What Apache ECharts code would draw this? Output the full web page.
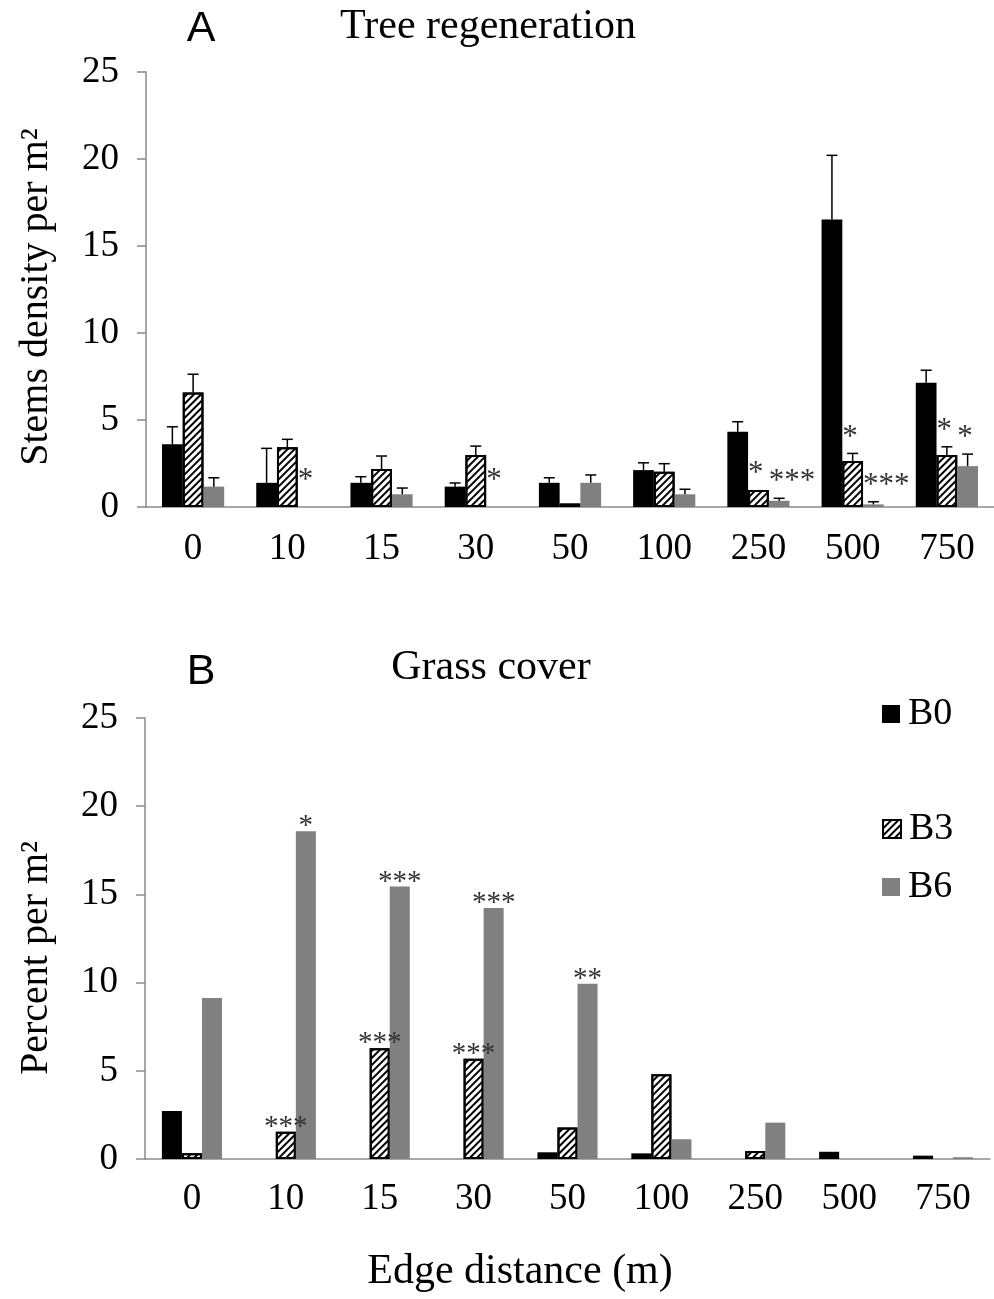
<!DOCTYPE html>
<html>
<head>
<meta charset="utf-8">
<script src="https://cdn.jsdelivr.net/npm/echarts@6/dist/echarts.min.js"></script>
<style>
  html, body { margin: 0; padding: 0; background: #fff; }
  #chart { width: 994px; height: 1299px; }
</style>
</head>
<body>
<div id="chart"></div>
<script>
// Edge distance classes (m)
const categories = ['0', '10', '15', '30', '50', '100', '250', '500', '750'];

// A: tree regeneration, stems density per m2 (mean and upper error)
const treeB0 = [3.60, 1.39, 1.39, 1.17, 1.39, 2.12, 4.32, 16.53, 7.14];
const treeB0Err = [1.01, 1.98, 0.35, 0.21, 0.29, 0.42, 0.58, 3.68, 0.72];
const treeB3 = [6.58, 3.43, 2.18, 2.99, 0.20, 2.03, 0.98, 2.64, 2.99];
const treeB3Err = [1.05, 0.46, 0.75, 0.51, 0, 0.46, 0, 0.44, 0.47];
const treeB6 = [1.17, 0, 0.73, 0, 1.39, 0.73, 0.36, 0.15, 2.35];
const treeB6Err = [0.51, 0, 0.36, 0, 0.45, 0.29, 0.14, 0.15, 0.69];
const treeB0Sig = ['', '', '', '', '', '', '', '', ''];
const treeB3Sig = ['', '', '', '', '', '', '*', '*', '*'];
const treeB6Sig = ['', '*', '', '*', '', '', '***', '***', '*'];

// B: grass cover, percent per m2
const grassB0 = [2.72, 0, 0, 0, 0.38, 0.32, 0, 0.41, 0.19];
const grassB3 = [0.32, 1.55, 6.28, 5.68, 1.78, 4.81, 0.45, 0, 0];
const grassB6 = [9.12, 18.58, 15.45, 14.23, 9.93, 1.12, 2.06, 0, 0.10];
const grassB3Sig = ['', '***', '***', '***', '', '', '', '', ''];
const grassB6Sig = ['', '*', '***', '***', '**', '', '', '', ''];

// Axis ticks
const yMin = 0, yMax = 25, yStep = 5;

const SERIF = '"Liberation Serif", "Times New Roman", serif';
const SANS = '"Liberation Sans Narrow", "Liberation Sans", Arial, sans-serif';
const AXIS_GRAY = '#8a8a8a';
const GAP_TOP = 0.34;

const hatch = {
  symbol: 'rect',
  symbolSize: 1,
  color: '#000',
  dashArrayX: [[1, 0]],
  dashArrayY: [2, 3],
  rotation: -Math.PI / 4
};

const styles = {
  B0: { color: '#000' },
  B3: { color: '#fff', borderColor: '#000', borderWidth: 2, decal: hatch },
  B6: { color: '#808080' }
};

// empty classes get no bar at all (avoids a stray outline on zero-height bars)
const noZero = arr => arr.map(v => (v === 0 ? '-' : v));

function xAxisFor(gridIndex, margin) {
  return {
    gridIndex, type: 'category', data: categories,
    axisLine: { lineStyle: { color: AXIS_GRAY, width: 1.5 } },
    axisTick: { length: 10, lineStyle: { color: AXIS_GRAY, width: 1.5 } },
    axisLabel: { fontFamily: SERIF, fontSize: 37, color: '#000', margin }
  };
}
function yAxisFor(gridIndex) {
  return {
    gridIndex, type: 'value', min: yMin, max: yMax, interval: yStep,
    splitLine: { show: false },
    axisLine: { show: true, lineStyle: { color: AXIS_GRAY, width: 1.5 } },
    axisTick: { show: true, length: 9, lineStyle: { color: AXIS_GRAY, width: 1.5 } },
    axisLabel: { fontFamily: SERIF, fontSize: 37, color: '#000', margin: 27 }
  };
}

// Upper error bars and significance marks for one group in panel A
function errorSeries(name, slot, values, errs, sigs) {
  return {
    type: 'custom', name: name + ' error', xAxisIndex: 0, yAxisIndex: 0, z: 5,
    silent: true,
    data: values.map((v, i) => [i, v, errs[i]]),
    renderItem(params, api) {
      const i = api.value(0), v = api.value(1), e = api.value(2);
      const band = api.size([1, 0])[0];
      const barW = band * (1 - GAP_TOP) / 3;
      const cx = api.coord([i, 0])[0] + (slot - 1) * barW;
      const yTop = api.coord([i, v])[1];
      const yHi = api.coord([i, v + e])[1];
      const children = [];
      if (e > 0) {
        children.push({ type: 'line', shape: { x1: cx, y1: yTop, x2: cx, y2: yHi }, style: { stroke: '#000', lineWidth: 1.5 } });
        children.push({ type: 'line', shape: { x1: cx - 5.5, y1: yHi, x2: cx + 5.5, y2: yHi }, style: { stroke: '#000', lineWidth: 1.5 } });
      }
      const s = sigs[params.dataIndex];
      if (s) {
        // marks over empty bars sit a little higher above the baseline
        const lift = v + e > 0 ? 16 : 26;
        children.push({
          type: 'text',
          style: {
            text: s, x: cx - barW / 2, y: yHi - lift,
            font: '31px ' + SERIF, fill: '#333',
            align: 'left', verticalAlign: 'middle',
            textAlign: 'left', textVerticalAlign: 'middle'
          }
        });
      }
      return { type: 'group', children };
    }
  };
}

function sigLabel(sigs) {
  return {
    show: true, position: 'top', distance: -10,
    fontFamily: SERIF, fontSize: 29, color: '#333',
    formatter: p => sigs[p.dataIndex]
  };
}

const legendText = { fontFamily: SERIF, fontSize: 38, color: '#000', padding: [0, 0, 0, 3] };
function legendFor(name, top) {
  return {
    data: [name], left: 882, top, icon: 'rect', itemWidth: 18, itemHeight: 18,
    itemGap: 0, padding: 0, textStyle: legendText, selectedMode: false
  };
}

const option = {
  animation: false,
  backgroundColor: '#fff',
  title: [
    { text: 'Tree regeneration', left: 488, top: 6, textAlign: 'center', padding: 0,
      textStyle: { fontFamily: SERIF, fontSize: 42, fontWeight: 'normal', color: '#000' } },
    { text: 'A', left: 201, top: 8, textAlign: 'center', padding: 0,
      textStyle: { fontFamily: SANS, fontSize: 43, fontWeight: 'normal', color: '#000' } },
    { text: 'Grass cover', left: 491, top: 647, textAlign: 'center', padding: 0,
      textStyle: { fontFamily: SERIF, fontSize: 42, fontWeight: 'normal', color: '#000' } },
    { text: 'B', left: 201, top: 651, textAlign: 'center', padding: 0,
      textStyle: { fontFamily: SANS, fontSize: 43, fontWeight: 'normal', color: '#000' } },
    { text: 'Edge distance (m)', left: 520, top: 1251, textAlign: 'center', padding: 0,
      textStyle: { fontFamily: SERIF, fontSize: 42, fontWeight: 'normal', color: '#000' } }
  ],
  legend: [legendFor('B0', 695), legendFor('B3', 810), legendFor('B6', 868)],
  grid: [
    { left: 146, top: 72, width: 849, height: 435 },
    { left: 145, top: 718, width: 845, height: 441 }
  ],
  xAxis: [xAxisFor(0, 24), xAxisFor(1, 22)],
  yAxis: [yAxisFor(0), yAxisFor(1)],
  graphic: [
    { type: 'text', x: 36, y: 297, rotation: Math.PI / 2,
      style: { text: 'Stems density per m²', font: '40px ' + SERIF, fill: '#000',
               align: 'center', verticalAlign: 'middle', textAlign: 'center', textVerticalAlign: 'middle' } },
    { type: 'text', x: 36, y: 958, rotation: Math.PI / 2,
      style: { text: 'Percent per m²', font: '40px ' + SERIF, fill: '#000',
               align: 'center', verticalAlign: 'middle', textAlign: 'center', textVerticalAlign: 'middle' } }
  ],
  series: [
    { type: 'bar', name: 'B0', xAxisIndex: 0, yAxisIndex: 0, data: treeB0, barGap: '0%', barCategoryGap: '34%', itemStyle: styles.B0 },
    { type: 'bar', name: 'B3', xAxisIndex: 0, yAxisIndex: 0, data: noZero(treeB3), barGap: '0%', barCategoryGap: '34%', itemStyle: styles.B3 },
    { type: 'bar', name: 'B6', xAxisIndex: 0, yAxisIndex: 0, data: noZero(treeB6), barGap: '0%', barCategoryGap: '34%', itemStyle: styles.B6 },
    errorSeries('B0', 0, treeB0, treeB0Err, treeB0Sig),
    errorSeries('B3', 1, treeB3, treeB3Err, treeB3Sig),
    errorSeries('B6', 2, treeB6, treeB6Err, treeB6Sig),
    { type: 'bar', name: 'B0', xAxisIndex: 1, yAxisIndex: 1, data: noZero(grassB0), barGap: '0%', barCategoryGap: '36%', itemStyle: styles.B0 },
    { type: 'bar', name: 'B3', xAxisIndex: 1, yAxisIndex: 1, data: noZero(grassB3), barGap: '0%', barCategoryGap: '36%', itemStyle: styles.B3, label: sigLabel(grassB3Sig) },
    { type: 'bar', name: 'B6', xAxisIndex: 1, yAxisIndex: 1, data: noZero(grassB6), barGap: '0%', barCategoryGap: '36%', itemStyle: styles.B6, label: sigLabel(grassB6Sig) }
  ]
};

const chart = echarts.init(document.getElementById('chart'), null, { renderer: 'canvas' });
chart.setOption(option);
</script>
</body>
</html>
